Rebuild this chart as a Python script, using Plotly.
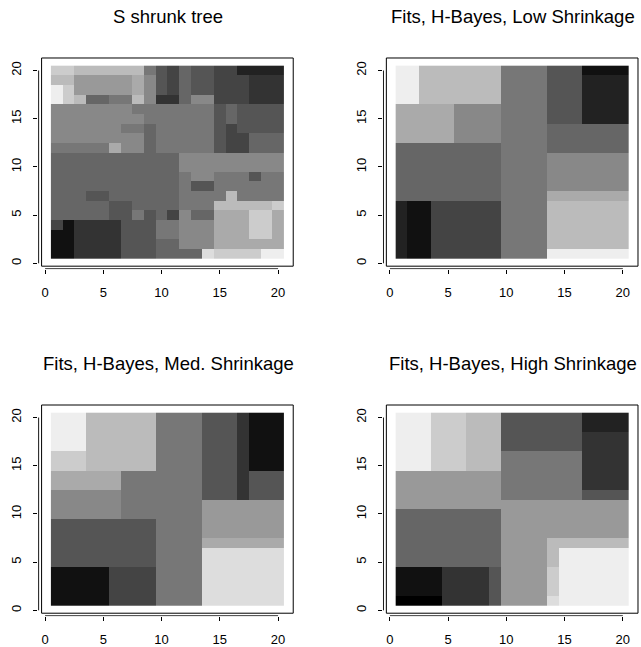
import plotly.graph_objects as go

# Gray level per cell (hex digit 0..e -> black..#eeeeee); rows listed from y=20 (top) down to y=1
titles = ["S shrunk tree", "Fits, H-Bayes, Low Shrinkage",
          "Fits, H-Bayes, Med. Shrinkage", "Fits, H-Bayes, High Shrinkage"]

shrunk_tree = [
    "ccbbbbbb754655442222",
    "bb99999a854655444333",
    "ec99999a854655444333",
    "ecb6677b833688444333",
    "88888887777777565555",
    "88888888777777565555",
    "88888877677777545555",
    "88888888677777544666",
    "77777a88677777544666",
    "66666666666888888888",
    "66666666666888888888",
    "66666666666788777577",
    "66666666666755777777",
    "666556666667777b7777",
    "66666556666777bbbbbc",
    "66666557564866aaacca",
    "41333355577888aaacca",
    "11333355577888aaacca",
    "11333355566888aaaaaa",
    "1133335556666dccccee",
]

low_shrink = [
    "eebbbbbbb77775551111",
    "eebbbbbbb77775552222",
    "eebbbbbbb77775552222",
    "eebbbbbbb77775552222",
    "aaaaa888877775552222",
    "aaaaa888877775552222",
    "aaaaa888877776666666",
    "aaaaa888877776666666",
    "66666666677776666666",
    "66666666677778888888",
    "66666666677778888888",
    "66666666677778888888",
    "66666666677778888888",
    "6666666667777aaaaaaa",
    "2114444447777bbbbbbb",
    "2114444447777bbbbbbb",
    "2114444447777bbbbbbb",
    "2114444447777bbbbbbb",
    "2114444447777bbbbbbb",
    "2114444447777eeeeeee",
]

med_shrink = [
    "eeebbbbbb77775553111",
    "eeebbbbbb77775553111",
    "eeebbbbbb77775553111",
    "eeebbbbbb77775553111",
    "cccbbbbbb77775553111",
    "cccbbbbbb77775553111",
    "aaaaaa77777775553555",
    "aaaaaa77777775553555",
    "88888877777775553555",
    "88888877777779999999",
    "88888877777779999999",
    "55555555577779999999",
    "55555555577779999999",
    "5555555557777aaaaaaa",
    "5555555557777ddddddd",
    "5555555557777ddddddd",
    "1111144447777ddddddd",
    "1111144447777ddddddd",
    "1111144447777ddddddd",
    "1111144447777ddddddd",
]

high_shrink = [
    "eeecccbbb55555552222",
    "eeecccbbb55555552222",
    "eeecccbbb55555553333",
    "eeecccbbb55555553333",
    "eeecccbbb77777773333",
    "eeecccbbb77777773333",
    "99999999977777773333",
    "99999999977777773333",
    "99999999977777775555",
    "99999999999999999999",
    "66666666699999999999",
    "66666666699999999999",
    "66666666699999999999",
    "6666666669999bbbbbbb",
    "6666666669999beeeeee",
    "6666666669999beeeeee",
    "1111333359999ceeeeee",
    "1111333359999ceeeeee",
    "1111333359999ceeeeee",
    "0000333359999deeeeee",
]

x_cells = list(range(1, 21))
y_cells = list(range(1, 21))
tick_vals = [0, 5, 10, 15, 20]
tick_text = ["0", "5", "10", "15", "20"]

panels = [shrunk_tree, low_shrink, med_shrink, high_shrink]


def to_grid(rows):
    # rows are top (y=20) to bottom (y=1); heatmap wants y=1 first
    return [[int(c, 16) for c in r] for r in reversed(rows)]


xdoms = [[0.05944, 0.45928], [0.59729, 0.99713]]
ydoms = [[0.58253, 0.91159], [0.04451, 0.37357]]
XR = [-0.6, 21.4]
YR = [-0.62, 21.4]

fig = go.Figure()
font_family = "Liberation Sans, Arial, Helvetica, sans-serif"
shapes = []
annotations = []

for i, rows in enumerate(panels):
    r, c = divmod(i, 2)
    n = i + 1
    xa = "x" if n == 1 else f"x{n}"
    ya = "y" if n == 1 else f"y{n}"
    fig.add_trace(go.Heatmap(
        x=x_cells, y=y_cells, z=to_grid(rows),
        zmin=0, zmax=14,
        colorscale=[[0, "#000000"], [1, "#eeeeee"]],
        showscale=False, hoverinfo="skip",
        xaxis=xa, yaxis=ya,
    ))
    axis_common = dict(
        showgrid=False, zeroline=False, showline=False,
        ticks="outside", ticklen=4, tickwidth=1, tickcolor="black",
        tickvals=tick_vals, ticktext=tick_text,
        tickfont=dict(family=font_family, size=13, color="black"),
        fixedrange=True,
    )
    fig.layout[f"xaxis{'' if n == 1 else n}"] = dict(
        axis_common, domain=xdoms[c], range=XR, anchor=ya,
        ticklabelstandoff=7,
    )
    fig.layout[f"yaxis{'' if n == 1 else n}"] = dict(
        axis_common, domain=ydoms[r], range=YR, anchor=xa,
        tickangle=-90, ticklabelstandoff=7,
    )
    # plot box
    shapes.append(dict(type="rect", xref=xa, yref=ya, x0=-0.3, x1=21.3,
                       y0=-0.3, y1=21.3, line=dict(color="black", width=1),
                       fillcolor="rgba(0,0,0,0)", layer="above"))
    # axis lines spanning first to last tick
    shapes.append(dict(type="line", xref=xa, yref=ya, x0=0, x1=20,
                       y0=-0.575, y1=-0.575, line=dict(color="black", width=1)))
    shapes.append(dict(type="line", xref=xa, yref=ya, x0=-0.555, x1=-0.555,
                       y0=0, y1=20, line=dict(color="black", width=1)))
    annotations.append(dict(
        text=titles[i], xref="paper", yref="paper",
        x=(xdoms[c][0] + xdoms[c][1]) / 2 + 0.0035,
        y=[0.9737, 0.4359][r], xanchor="center", yanchor="middle",
        showarrow=False, font=dict(family=font_family, size=18.5, color="black"),
    ))

fig.update_layout(
    width=641, height=647,
    margin=dict(l=0, r=0, t=0, b=0),
    paper_bgcolor="white", plot_bgcolor="white",
    shapes=shapes, annotations=annotations,
    showlegend=False,
)

fig.write_html(
    "out.html",
    config={"displayModeBar": False, "staticPlot": True},
    post_script="document.body.style.margin='0';document.body.style.overflow='hidden';",
)
